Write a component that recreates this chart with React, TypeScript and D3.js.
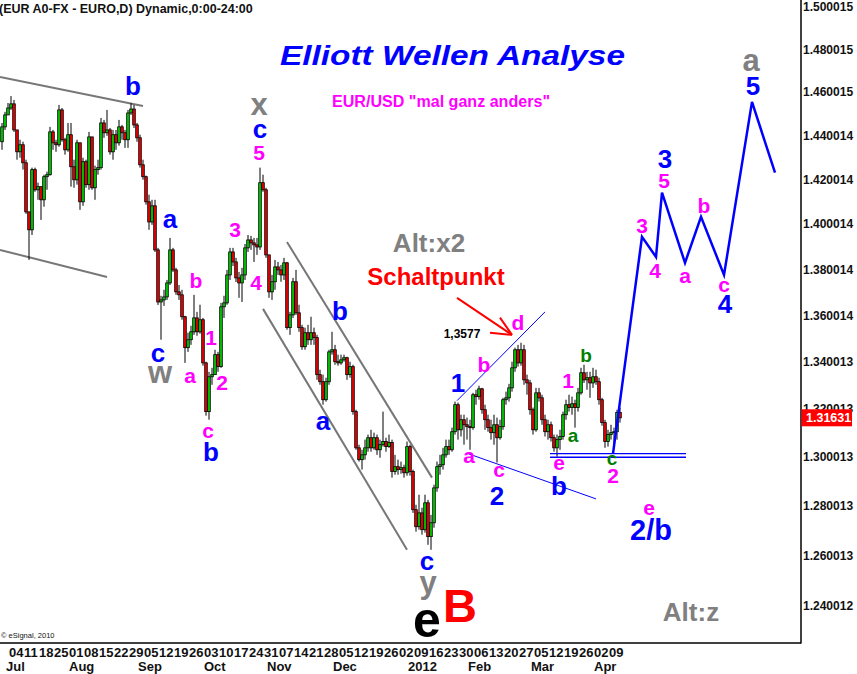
import React, { useEffect } from 'react';
import { scaleLinear, scaleLog, line } from 'd3';

// day index counted in trading days from Mon 4 Jul 2011 (= 0)
const firstDay = -3;
const firstOpen = 1.4371;

const closes = [
  1.4439, 1.4494, 1.4526, 1.4545, 1.4425, 1.4325, 1.4357, 1.4275, 1.4054, 1.3974,
  1.4244, 1.4153, 1.4167, 1.4108, 1.4212, 1.4221, 1.4416, 1.4366, 1.4357, 1.4517,
  1.4380, 1.4334, 1.4403, 1.4257, 1.4198, 1.4366, 1.4099, 1.4280, 1.4176, 1.4393,
  1.4162, 1.4244, 1.4253, 1.4457, 1.4412, 1.4425, 1.4325, 1.4403, 1.4366, 1.4439,
  1.4412, 1.4380, 1.4503, 1.4521, 1.4448, 1.4389, 1.4266, 1.4212, 1.4099, 1.4009,
  1.4081, 1.3885, 1.3657, 1.3666, 1.3679, 1.3740, 1.3885, 1.3797, 1.3701, 1.3688,
  1.3593, 1.3460, 1.3494, 1.3528, 1.3588, 1.3528, 1.3580, 1.3395, 1.3189, 1.3336,
  1.3345, 1.3430, 1.3379, 1.3636, 1.3653, 1.3775, 1.3876, 1.3832, 1.3762, 1.3740,
  1.3775, 1.3894, 1.3929, 1.3916, 1.3907, 1.3898, 1.4185, 1.4153, 1.3863, 1.3701,
  1.3745, 1.3810, 1.3797, 1.3775, 1.3828, 1.3546, 1.3601, 1.3745, 1.3610, 1.3546,
  1.3464, 1.3524, 1.3494, 1.3524, 1.3503, 1.3345, 1.3315, 1.3239, 1.3315, 1.3442,
  1.3451, 1.3400, 1.3395, 1.3408, 1.3417, 1.3345, 1.3379, 1.3189, 1.3038, 1.2989,
  1.3009, 1.3038, 1.3080, 1.3038, 1.3080, 1.3030, 1.3051, 1.3064, 1.3043, 1.3060,
  1.2940, 1.2960, 1.2948, 1.2956, 1.2935, 1.3043, 1.2940, 1.2784, 1.2715, 1.2771,
  1.2703, 1.2812, 1.2675, 1.2731, 1.2873, 1.2960, 1.2968, 1.3009, 1.3043, 1.3030,
  1.3105, 1.3218, 1.3113, 1.3155, 1.3134, 1.3126, 1.3122, 1.3260, 1.3252, 1.3285,
  1.3197, 1.3155, 1.3122, 1.3101, 1.3134, 1.3080, 1.3126, 1.3239, 1.3247, 1.3289,
  1.3374, 1.3451, 1.3395, 1.3451, 1.3323, 1.3310, 1.3197, 1.3113, 1.3268, 1.3247,
  1.3155, 1.3105, 1.3134, 1.3080, 1.3038, 1.3072, 1.3085, 1.3176, 1.3218, 1.3206,
  1.3222, 1.3206, 1.3268, 1.3353, 1.3323, 1.3332, 1.3310, 1.3336, 1.3315, 1.3239,
  1.3143, 1.3064, 1.3093, 1.3101, 1.3105, 1.3185, 1.3163,
];

const highs = [
  1.4457, 1.4508, 1.4549, 1.4581, 1.4563, 1.4425, 1.4380, 1.4371, 1.4289, 1.4054,
  1.4253, 1.4253, 1.4185, 1.4167, 1.4221, 1.4235, 1.4439, 1.4425, 1.4380, 1.4540,
  1.4526, 1.4389, 1.4457, 1.4457, 1.4289, 1.4380, 1.4366, 1.4298, 1.4289, 1.4416,
  1.4393, 1.4262, 1.4289, 1.4480, 1.4471, 1.4517, 1.4434, 1.4425, 1.4425, 1.4471,
  1.4448, 1.4425, 1.4517, 1.4549, 1.4540, 1.4457, 1.4403, 1.4289, 1.4217, 1.4131,
  1.4108, 1.4108, 1.3894, 1.3684, 1.3710, 1.3753, 1.3938, 1.3894, 1.3806, 1.3731,
  1.3710, 1.3597, 1.3524, 1.3554, 1.3688, 1.3614, 1.3645, 1.3588, 1.3400, 1.3357,
  1.3374, 1.3451, 1.3442, 1.3653, 1.3684, 1.3797, 1.3894, 1.3894, 1.3850, 1.3788,
  1.3806, 1.3911, 1.3951, 1.3947, 1.3938, 1.3938, 1.4253, 1.4221, 1.4162, 1.3863,
  1.3775, 1.3841, 1.3832, 1.3819, 1.3850, 1.3832, 1.3614, 1.3762, 1.3797, 1.3645,
  1.3558, 1.3546, 1.3558, 1.3593, 1.3546, 1.3515, 1.3366, 1.3345, 1.3332, 1.3451,
  1.3528, 1.3472, 1.3430, 1.3430, 1.3430, 1.3421, 1.3400, 1.3387, 1.3197, 1.3051,
  1.3030, 1.3072, 1.3093, 1.3113, 1.3101, 1.3093, 1.3072, 1.3189, 1.3080, 1.3093,
  1.3072, 1.3009, 1.2989, 1.2981, 1.2968, 1.3064, 1.3051, 1.2948, 1.2804, 1.2845,
  1.2792, 1.2845, 1.2824, 1.2763, 1.2886, 1.2981, 1.3009, 1.3038, 1.3072, 1.3072,
  1.3122, 1.3231, 1.3227, 1.3176, 1.3176, 1.3164, 1.3155, 1.3268, 1.3281, 1.3298,
  1.3289, 1.3218, 1.3176, 1.3155, 1.3176, 1.3164, 1.3155, 1.3247, 1.3273, 1.3306,
  1.3400, 1.3460, 1.3472, 1.3481, 1.3472, 1.3345, 1.3323, 1.3206, 1.3289, 1.3289,
  1.3260, 1.3176, 1.3155, 1.3147, 1.3093, 1.3093, 1.3113, 1.3189, 1.3239, 1.3260,
  1.3252, 1.3239, 1.3289, 1.3374, 1.3387, 1.3357, 1.3357, 1.3374, 1.3366, 1.3332,
  1.3247, 1.3155, 1.3113, 1.3134, 1.3122, 1.3197, 1.3206,
];

const lows = [
  1.4334, 1.4425, 1.4494, 1.4517, 1.4416, 1.4289, 1.4298, 1.4244, 1.4045, 1.3841,
  1.3951, 1.4144, 1.4108, 1.4018, 1.4077, 1.4153, 1.4217, 1.4334, 1.4325, 1.4348,
  1.4371, 1.4312, 1.4325, 1.4167, 1.4162, 1.4176, 1.4063, 1.4081, 1.4162, 1.4153,
  1.4153, 1.4108, 1.4221, 1.4244, 1.4389, 1.4398, 1.4312, 1.4289, 1.4334, 1.4353,
  1.4380, 1.4343, 1.4343, 1.4494, 1.4434, 1.4371, 1.4253, 1.4198, 1.4086, 1.3974,
  1.3996, 1.3876, 1.3644, 1.3494, 1.3640, 1.3666, 1.3731, 1.3788, 1.3688, 1.3666,
  1.3580, 1.3395, 1.3442, 1.3472, 1.3515, 1.3511, 1.3520, 1.3383, 1.3172, 1.3155,
  1.3302, 1.3357, 1.3357, 1.3374, 1.3588, 1.3645, 1.3753, 1.3814, 1.3744, 1.3675,
  1.3657, 1.3753, 1.3876, 1.3885, 1.3832, 1.3863, 1.3885, 1.4144, 1.3850, 1.3675,
  1.3666, 1.3710, 1.3775, 1.3745, 1.3753, 1.3537, 1.3515, 1.3588, 1.3601, 1.3528,
  1.3451, 1.3451, 1.3472, 1.3472, 1.3472, 1.3323, 1.3302, 1.3218, 1.3231, 1.3302,
  1.3430, 1.3387, 1.3383, 1.3387, 1.3400, 1.3323, 1.3332, 1.3176, 1.3030, 1.2981,
  1.2948, 1.2989, 1.3022, 1.3022, 1.3030, 1.3009, 1.2997, 1.3043, 1.3022, 1.3038,
  1.2915, 1.2927, 1.2927, 1.2931, 1.2915, 1.2923, 1.2923, 1.2771, 1.2695, 1.2703,
  1.2683, 1.2691, 1.2642, 1.2622, 1.2711, 1.2857, 1.2927, 1.2948, 1.2997, 1.3009,
  1.3022, 1.3093, 1.3072, 1.3085, 1.3051, 1.3072, 1.3030, 1.3113, 1.3218, 1.3239,
  1.3180, 1.3113, 1.3105, 1.3072, 1.3051, 1.2977, 1.3072, 1.3113, 1.3218, 1.3231,
  1.3273, 1.3357, 1.3379, 1.3383, 1.3302, 1.3260, 1.3176, 1.3093, 1.3105, 1.3231,
  1.3134, 1.3085, 1.3072, 1.3064, 1.3022, 1.3001, 1.3030, 1.3072, 1.3155, 1.3189,
  1.3176, 1.3122, 1.3189, 1.3260, 1.3310, 1.3281, 1.3247, 1.3289, 1.3302, 1.3218,
  1.3130, 1.3038, 1.3043, 1.3072, 1.3038, 1.3072, 1.3143,
];

const lastPrice = 1.31631;

const priceTicks = [
  1.500015, 1.480015, 1.460015, 1.440014, 1.420014, 1.400014, 1.380014,
  1.360014, 1.340013, 1.320013, 1.300013, 1.280013, 1.260013, 1.240012,
];

// one label per Monday, every 5 trading days from day 0
const weekLabels = [
  '04', '11', '18', '25', '01', '08', '15', '22', '29', '05', '12', '19', '26', '03',
  '10', '17', '24', '31', '07', '14', '21', '28', '05', '12', '19', '26', '02', '09',
  '16', '23', '30', '06', '13', '20', '27', '05', '12', '19', '26', '02', '09',
];
const monthLabels = ['Jul', 'Aug', 'Sep', 'Oct', 'Nov', 'Dec', '2012', 'Feb', 'Mar', 'Apr'];
const monthStarts = [-1, 20, 43, 65, 86, 108, 133, 153, 174, 195];

// wave counts: [text, day, price]
const blueWaves = [
  ['b', 40.67, 1.4586], ['c', 83, 1.4389], ['a', 53, 1.3983], ['c', 49, 1.34],
  ['b', 66.67, 1.2985], ['b', 109.67, 1.358], ['a', 104, 1.3113], ['c', 138.67, 1.2542],
  ['1', 149, 1.3273], ['2', 162, 1.2804], ['b', 182.67, 1.2845], ['3', 218, 1.4253],
  ['5', 247.33, 1.4586], ['4', 238, 1.361],
];
const greyWaves = [
  ['x', 82.67, 1.4494], ['w', 49.67, 1.331], ['a', 246.67, 1.4698], ['y', 139, 1.2451],
];
const magentaWaves = [
  ['5', 82.67, 1.4289], ['3', 74.67, 1.3943], ['4', 81.67, 1.371], ['b', 61.67, 1.3719],
  ['1', 66.67, 1.3472], ['a', 59.67, 1.331], ['2', 70.33, 1.3281], ['c', 65.67, 1.308],
  ['b', 157.67, 1.3357], ['a', 152.67, 1.2977], ['c', 162.67, 1.2919], ['d', 169, 1.3537],
  ['1', 185.67, 1.3289], ['e', 182.67, 1.2948], ['2', 200.67, 1.2894], ['e', 212.67, 1.2763],
  ['3', 210.33, 1.396], ['5', 217.67, 1.4162], ['4', 214.67, 1.3762], ['a', 224.67, 1.374],
  ['b', 231, 1.4049], ['c', 237.67, 1.3701],
];
const greenWaves = [['b', 191.67, 1.34], ['a', 187.33, 1.3064], ['c', 200.33, 1.2968]];
const altNotes = [['Alt:x2', 139.33, 1.3876], ['Alt:z', 226.67, 1.2341]];

const channels = [
  [[-3.67, 1.467], [44, 1.4535]],
  [[-3.67, 1.3885], [32, 1.3766]],
  [[92, 1.392], [140.33, 1.2915]],
  [[84, 1.3627], [132, 1.2622]],
];
const trendLines = [
  [[148.67, 1.3235], [178, 1.3614]],
  [[152.33, 1.3014], [195, 1.2828]],
  [[179.67, 1.3014], [225, 1.3014]],
  [[179.67, 1.2999], [225, 1.2999]],
];
const projDays = [200.67, 210.33, 215, 217, 224.67, 230, 237.67, 247, 254.67];
const projPrices = [1.3014, 1.3943, 1.3854, 1.414, 1.3828, 1.4032, 1.3775, 1.4554, 1.423];
const arrowLines = [
  [[148.67, 1.3675], [167, 1.3515]],
  [[163, 1.3589], [167, 1.3515]],
  [[159.67, 1.3524], [167, 1.3515]],
];

const FONT = '"Liberation Sans", Arial, sans-serif';

export default function App() {
  useEffect(() => {
    document.body.style.margin = '0';
  }, []);

  const x = scaleLinear().domain([0, 200]).range([11, 611]);
  const y = scaleLog().domain([1.24, 1.5]).range([605.6, 7]);
  const path = line<number[]>().x(d => x(d[0])).y(d => y(d[1]));

  const candles = closes.map((c, k) => {
    const o = k === 0 ? firstOpen : closes[k - 1];
    return {
      day: firstDay + k,
      o,
      c,
      h: Math.max(highs[k], o, c),
      l: Math.min(lows[k], o, c),
    };
  });

  const waveText = (list: any[], fill: string, size: number, key: string) =>
    list.map((w, k) => (
      <text key={key + k} x={x(w[1])} y={y(w[2])} fill={fill} fontSize={size}
        fontWeight="bold" textAnchor="middle">{w[0]}</text>
    ));

  return (
    <svg width={857} height={674} style={{ position: 'absolute', left: 0, top: 0, background: '#fff' }}
      fontFamily={FONT}>
      <rect width={857} height={674} fill="#fff" />

      {channels.map((l, k) => (
        <path key={'ch' + k} d={path(l) || ''} stroke="#777" strokeWidth={2} fill="none" />
      ))}

      {candles.map(d => {
        const cx = x(d.day);
        const top = y(Math.max(d.o, d.c));
        const bot = y(Math.min(d.o, d.c));
        return (
          <g key={'cd' + d.day}>
            <line x1={cx} x2={cx} y1={y(d.h)} y2={y(d.l)} stroke="#000" strokeWidth={1} />
            <rect x={cx - 1.3} y={top} width={2.6} height={Math.max(1, bot - top)}
              fill={d.c >= d.o ? '#00cc00' : '#ee0000'} stroke="#000" strokeWidth={0.8} />
          </g>
        );
      })}

      {trendLines.map((l, k) => (
        <path key={'tl' + k} d={path(l) || ''} stroke="#0000ff" strokeWidth={k < 2 ? 1 : 1.3} fill="none" />
      ))}
      <path d={path(projDays.map((d, k) => [d, projPrices[k]])) || ''} stroke="#0000ff"
        strokeWidth={2.5} fill="none" strokeLinejoin="miter" />
      {arrowLines.map((l, k) => (
        <path key={'ar' + k} d={path(l) || ''} stroke="#ff0000" strokeWidth={2} fill="none" />
      ))}

      {/* header */}
      <text x={-1} y={13} fontSize={12.5} fontWeight="bold" fill="#111">(EUR A0-FX - EURO,D) Dynamic,0:00-24:00</text>
      <text x={280} y={65} fontSize={28} fontWeight="bold" fontStyle="italic" fill="#0000ff"
        textLength={345} lengthAdjust="spacingAndGlyphs">Elliott Wellen Analyse</text>
      <text x={332} y={107} fontSize={16} fontWeight="bold" fill="#ff00ff"
        textLength={218} lengthAdjust="spacingAndGlyphs">{'EUR/USD "mal ganz anders"'}</text>

      {waveText(blueWaves, '#0000ff', 26, 'bw')}
      <text x={x(213.33)} y={y(1.2663)} fill="#0000ff" fontSize={29} fontWeight="bold" textAnchor="middle">2/b</text>
      {waveText(greyWaves, '#808080', 31, 'gw')}
      {waveText(magentaWaves, '#ff00ff', 21, 'mw')}
      {waveText(greenWaves, '#008000', 19, 'grw')}
      {waveText(altNotes, '#808080', 26, 'alt')}
      <text x={x(138.67)} y={y(1.2278)} fill="#000" fontSize={50} fontWeight="bold" textAnchor="middle">e</text>
      <text x={x(149.67)} y={y(1.2337)} fill="#ff0000" fontSize={47} fontWeight="bold" textAnchor="middle">B</text>
      <text x={x(141.67)} y={y(1.3731)} fill="#ff0000" fontSize={24} fontWeight="bold" textAnchor="middle">Schaltpunkt</text>
      <text x={x(150.33)} y={y(1.3503)} fill="#000" fontSize={12} fontWeight="bold" textAnchor="middle">1,3577</text>

      {/* axes */}
      <line x1={801} x2={801} y1={0} y2={643.5} stroke="#000" strokeWidth={1.5} />
      <line x1={0} x2={801} y1={643} y2={643} stroke="#000" strokeWidth={1.5} />
      {priceTicks.map(v => (
        <text key={'pt' + v} x={803} y={y(v) + 4.5} fontSize={12} fontWeight="bold" fill="#111">
          {v.toFixed(6)}
        </text>
      ))}
      <rect x={801.5} y={y(lastPrice) - 8.5} width={50.5} height={17} fill="#ff0000" />
      <text x={806} y={y(lastPrice) + 4.5} fontSize={12.5} fontWeight="bold" fill="#fff">{lastPrice.toFixed(5)}</text>

      {weekLabels.map((t, k) => (
        <text key={'wk' + k} x={x(k * 5) - 2} y={657} fontSize={13} fontWeight="bold" fill="#111">{t}</text>
      ))}
      {monthLabels.map((t, k) => (
        <text key={'mo' + k} x={x(monthStarts[k]) - 2} y={671} fontSize={13} fontWeight="bold" fill="#111">{t}</text>
      ))}
      <text x={1} y={638} fontSize={7.5} fill="#111">© eSignal, 2010</text>
    </svg>
  );
}
